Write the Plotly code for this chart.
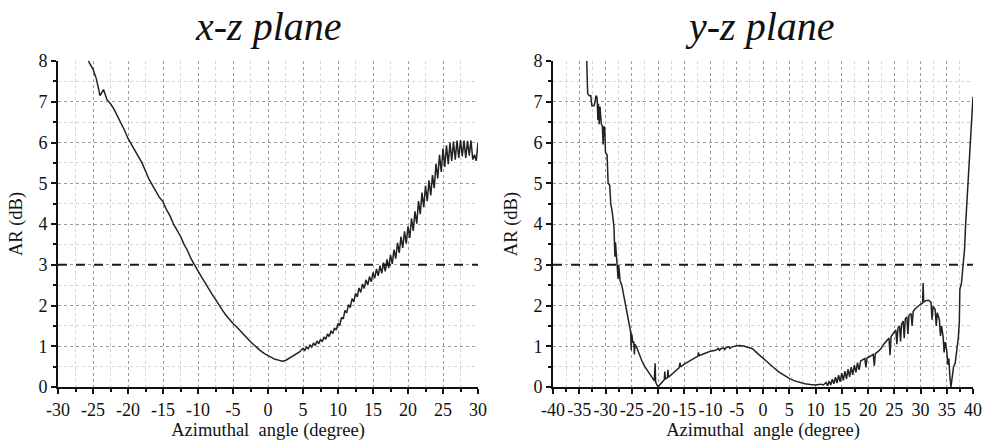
import plotly.graph_objects as go

# ---------------- data ----------------
xz_angle = [-26, -25.5, -25, -24.5, -24, -23.5, -23, -22.5, -22, -21.5, -21, -20.5, -20,
            -19.5, -19, -18.5, -18, -17.5, -17, -16.5, -16, -15.5, -15, -14.5, -14, -13.5,
            -13, -12.5, -12, -11.5, -11, -10.5, -10, -9.5, -9, -8.5, -8, -7.5, -7, -6.5,
            -6, -5.5, -5, -4.5, -4, -3.5, -3, -2.5, -2, -1.5, -1, -0.5, 0, 0.5, 1, 1.5,
            2, 2.5, 3, 3.5, 4, 4.5,
            5.0, 5.25, 5.5, 5.75, 6.0, 6.25, 6.5, 6.75, 7.0, 7.25, 7.5, 7.75, 8.0, 8.25,
            8.5, 8.75, 9.0, 9.25, 9.5, 9.75, 10.0, 10.25, 10.5, 10.75, 11.0, 11.25, 11.5,
            11.75, 12.0, 12.25, 12.5, 12.75, 13.0, 13.25, 13.5, 13.75, 14.0, 14.25, 14.5,
            14.75, 15.0, 15.25, 15.5, 15.75, 16.0, 16.25, 16.5, 16.75, 17.0, 17.25, 17.5,
            17.75, 18.0, 18.25, 18.5, 18.75, 19.0, 19.25, 19.5, 19.75, 20.0, 20.25, 20.5,
            20.75, 21.0, 21.25, 21.5, 21.75, 22.0, 22.25, 22.5, 22.75, 23.0, 23.25, 23.5,
            23.75, 24.0, 24.25, 24.5, 24.75, 25.0, 25.25, 25.5, 25.75, 26.0, 26.25, 26.5,
            26.75, 27.0, 27.25, 27.5, 27.75, 28.0, 28.25, 28.5, 28.75, 29.0, 29.25, 29.5,
            29.75, 30.0]
xz_ar = [8.15, 7.95, 7.8, 7.55, 7.15, 7.3, 7.05, 6.95, 6.82, 6.65, 6.5, 6.3, 6.1,
         5.95, 5.8, 5.62, 5.5, 5.3, 5.1, 4.95, 4.8, 4.65, 4.55, 4.35, 4.2, 4.0,
         3.85, 3.7, 3.5, 3.35, 3.15, 2.98, 2.85, 2.7, 2.55, 2.42, 2.28, 2.15, 2.0, 1.88,
         1.76, 1.65, 1.56, 1.48, 1.38, 1.28, 1.2, 1.11, 1.03, 0.95, 0.88, 0.82, 0.77, 0.72,
         0.68, 0.66, 0.63, 0.65, 0.70, 0.76, 0.82, 0.86,
         0.95, 0.90, 0.98, 0.94, 1.03, 0.98, 1.08, 1.02, 1.13, 1.06, 1.17, 1.11, 1.23, 1.17,
         1.30, 1.24, 1.38, 1.31, 1.45, 1.40, 1.56, 1.51, 1.71, 1.67, 1.88, 1.82, 2.02,
         1.95, 2.17, 2.09, 2.30, 2.21, 2.43, 2.32, 2.53, 2.42, 2.63, 2.50, 2.71,
         2.58, 2.81, 2.67, 2.90, 2.73, 2.98, 2.79, 3.05, 2.84, 3.13, 2.92, 3.24,
         3.02, 3.37, 3.15, 3.54, 3.29, 3.69, 3.41, 3.82, 3.52, 3.94, 3.66, 4.14,
         3.83, 4.31, 4.01, 4.56, 4.24, 4.77, 4.41, 4.94, 4.56, 5.07, 4.70, 5.20,
         4.88, 5.48, 5.12, 5.70, 5.28, 5.85, 5.40, 5.93, 5.47, 5.99, 5.55, 6.02,
         5.58, 6.05, 5.62, 6.06, 5.66, 6.05, 5.62, 6.04, 5.68, 6.05, 5.58, 5.70,
         5.55, 6.0]

yz_angle = [-33.7, -33.55, -33.4, -33.1, -32.8, -32.6, -32.2, -32.0, -31.8, -31.6, -31.45,
            -31.35, -31.2, -31.05, -30.8, -30.6, -30.45, -30.35, -30.15, -30.0, -29.7, -29.5,
            -29.2, -29.0, -28.7, -28.4, -28.25, -28.2, -28.1, -27.9, -27.7, -27.6, -27.5,
            -27.2, -26.9, -26.6, -26.3, -26.0, -25.7, -25.4, -25.2, -25.1, -25.0, -24.8,
            -24.6, -24.5, -24.4, -24.0, -23.5, -23.0, -22.5, -22.0, -21.5, -21.0, -20.7,
            -20.55, -20.45, -20.2, -19.95, -19.7, -19.4, -19.0, -18.8, -18.7, -18.6, -18.2,
            -18.1, -18.0, -17.5, -17.0, -16.5, -16.0, -15.8, -15.7, -15.0, -14.0, -13.0,
            -12.4, -12.3, -12.2, -11.0, -10.0, -9.0, -8.5, -8.3, -8.0, -7.5, -7.3, -7.0,
            -6.5, -6.3, -6.0, -5.0, -4.4, -3.5, -2.5, -2.0, -1.0, 0.0, 1.0, 2.0, 3.0, 4.0,
            5.0, 6.0, 7.0, 8.0, 9.0, 10.0, 11.0, 11.5, 12.0, 12.3, 12.6, 12.9, 13.2, 13.5,
            13.8, 14.1, 14.4, 14.7, 15.0, 15.3, 15.6, 15.9, 16.2, 16.5, 16.8, 17.1, 17.4,
            17.7, 18.0, 18.3, 18.6, 19.0, 19.4, 19.6, 19.8, 20.5, 21.0, 21.2, 21.4, 22.0,
            22.5, 23.0, 23.5, 24.0, 24.2, 24.4, 25.0, 25.3, 25.5, 25.7, 26.0, 26.2, 26.4,
            26.7, 26.9, 27.1, 27.4, 27.6, 27.8, 28.2, 28.4, 28.6, 29.0, 29.5, 30.0, 30.4,
            30.5, 30.6, 31.0, 31.5, 32.0, 32.2, 32.4, 32.8, 33.0, 33.2, 33.6, 33.8, 34.0,
            34.3, 34.5, 34.7, 35.0, 35.2, 35.4, 35.6, 35.8, 36.0, 36.3, 36.6, 36.9, 37.2,
            37.4, 37.5, 37.8, 38.1, 38.4, 38.6, 39.0, 39.3, 39.6, 39.8, 40.0]
yz_ar = [8.6, 7.8, 7.2, 7.15, 7.15, 6.9, 6.9, 7.0, 7.15, 7.1, 6.55,
         6.95, 6.45, 6.88, 6.45, 6.4, 5.95, 6.4, 6.35, 5.75, 5.7, 5.0,
         4.95, 4.5, 4.28, 3.95, 3.6, 3.2, 3.55, 3.2, 3.05, 2.65, 3.0,
         2.6, 2.5, 2.3, 2.1, 1.95, 1.7, 1.5, 1.35, 0.9, 1.3, 1.1,
         1.1, 0.8, 1.05, 0.95, 0.78, 0.62, 0.5, 0.4, 0.3, 0.22, 0.15,
         0.58, 0.12, 0.05, 0.0, 0.05, 0.1, 0.16, 0.18, 0.38, 0.19, 0.23,
         0.42, 0.24, 0.3, 0.36, 0.42, 0.47, 0.6, 0.49, 0.56, 0.64, 0.72,
         0.76, 0.85, 0.77, 0.83, 0.88, 0.9, 0.95, 0.9, 0.94, 0.96, 0.92, 0.97,
         0.99, 0.95, 0.98, 1.01, 1.02, 1.0, 0.97, 0.94, 0.82, 0.7, 0.58, 0.48, 0.37, 0.28,
         0.21, 0.15, 0.11, 0.08, 0.06, 0.05, 0.07, 0.05, 0.11, 0.03, 0.14, 0.05, 0.19, 0.08,
         0.24, 0.1, 0.29, 0.13, 0.34, 0.16, 0.39, 0.2, 0.44, 0.25, 0.49, 0.3, 0.54,
         0.36, 0.6, 0.42, 0.64, 0.67, 0.7, 0.48, 0.71, 0.76, 0.8, 0.52, 0.82, 0.88,
         0.95, 1.05, 1.13, 1.2, 0.78, 1.24, 1.35, 1.4, 1.05, 1.45, 1.5, 1.12, 1.55,
         1.62, 1.2, 1.67, 1.72, 1.3, 1.76, 1.8, 1.5, 1.85, 1.92, 1.98, 2.03, 2.06,
         2.55, 2.08, 2.12, 2.13, 2.08, 1.65, 1.98, 1.9, 1.5, 1.82, 1.65, 1.25, 1.5,
         1.25, 0.85, 1.1, 0.9, 0.55, 0.7, 0.25, 0.0, 0.2, 0.5, 0.58, 0.9, 1.2,
         1.6, 2.4, 2.55, 3.0, 3.4, 4.0, 4.9, 5.6, 6.3, 6.8, 7.12]

threshold_db = [3, 3]
xz_range = [-30, 30]
yz_range = [-40, 40]
xz_tickvals = [-30, -25, -20, -15, -10, -5, 0, 5, 10, 15, 20, 25, 30]
xz_ticktext = ["-30", "-25", "-20", "-15", "-10", "-5", "0", "5", "10", "15", "20", "25", "30"]
yz_tickvals = [-40, -35, -30, -25, -20, -15, -10, -5, 0, 5, 10, 15, 20, 25, 30, 35, 40]
yz_ticktext = ["-40", "-35", "-30", "-25", "-20", "-15", "-10", "-5", "0", "5", "10", "15",
               "20", "25", "30", "35", "40"]
ar_tickvals = [0, 1, 2, 3, 4, 5, 6, 7, 8]
titles = ["x-z plane", "y-z plane"]
x_title = "Azimuthal  angle (degree)"
y_title = "AR (dB)"

# ---------------- figure ----------------
SERIF = "Liberation Serif"
curve = dict(color="#222222", width=1.5)
dash = dict(color="#1a1a1a", width=2, dash="dash")

fig = go.Figure()
fig.add_trace(go.Scatter(x=xz_angle, y=xz_ar, mode="lines", line=curve, xaxis="x", yaxis="y"))
fig.add_trace(go.Scatter(x=xz_range, y=threshold_db, mode="lines", line=dash, xaxis="x", yaxis="y"))
fig.add_trace(go.Scatter(x=yz_angle, y=yz_ar, mode="lines", line=curve, xaxis="x2", yaxis="y2"))
fig.add_trace(go.Scatter(x=yz_range, y=threshold_db, mode="lines", line=dash, xaxis="x2", yaxis="y2"))

W, H = 990, 445
OFF = 0  # body margin is removed below, so page pixels == figure pixels
def px_x(p):
    return (p - OFF) / W
def px_y(p):
    return 1 - (p - OFF) / H

tickfont = dict(family=SERIF, size=18, color="#111")
titlefont = dict(family=SERIF, size=18.5, color="#111")
grid_major = dict(showgrid=True, gridcolor="#9a9a9a", griddash="dot", gridwidth=1)

def xaxis(domain, rng, anchor, vals, text):
    return dict(domain=domain, range=rng, anchor=anchor, automargin=False,
                tickmode="array", tickvals=vals, ticktext=text, tickangle=0,
                showline=True, linecolor="#111", linewidth=2,
                ticks="outside", ticklen=5, tickwidth=1.5, tickcolor="#111",
                zeroline=False, tickfont=tickfont, **grid_major,
                minor=dict(tickmode="linear", tick0=0, dtick=2.5, ticks="outside", ticklen=3,
                           tickcolor="#111", showgrid=True, gridcolor="#d4d4d4", griddash="dot"),
                title=dict(text=x_title, font=titlefont, standoff=3))

def yaxis(domain, anchor):
    return dict(domain=domain, range=[0, 8], anchor=anchor, automargin=False,
                tickmode="array", tickvals=ar_tickvals,
                showline=True, linecolor="#111", linewidth=2,
                ticks="outside", ticklen=5, tickwidth=1.5, tickcolor="#111",
                zeroline=False, tickfont=tickfont, **grid_major,
                minor=dict(tickmode="linear", tick0=0, dtick=0.5, ticks="outside", ticklen=3,
                           tickcolor="#111", showgrid=True, gridcolor="#d4d4d4", griddash="dot"),
                title=dict(text=y_title, font=titlefont, standoff=11))

ydom = [px_y(387), px_y(61)]
title_font = dict(family=SERIF, size=40, color="#111", style="italic")
fig.update_layout(
    width=W, height=H,
    margin=dict(l=0, r=0, t=0, b=0, autoexpand=False),
    paper_bgcolor="white", plot_bgcolor="white",
    showlegend=False,
    xaxis=xaxis([px_x(58), px_x(478)], xz_range, "y", xz_tickvals, xz_ticktext),
    yaxis=yaxis(ydom, "x"),
    xaxis2=xaxis([px_x(553), px_x(973)], yz_range, "y2", yz_tickvals, yz_ticktext),
    yaxis2=yaxis(ydom, "x2"),
    annotations=[
        dict(text=titles[0], x=px_x(268), y=px_y(27), xref="paper", yref="paper",
             xanchor="center", yanchor="middle", showarrow=False, font=title_font),
        dict(text=titles[1], x=px_x(760), y=px_y(27), xref="paper", yref="paper",
             xanchor="center", yanchor="middle", showarrow=False, font=title_font),
    ],
)

fig.write_html("out.html",
               config={"displayModeBar": False},
               post_script="document.body.style.margin='0px';document.body.style.overflow='hidden';")
